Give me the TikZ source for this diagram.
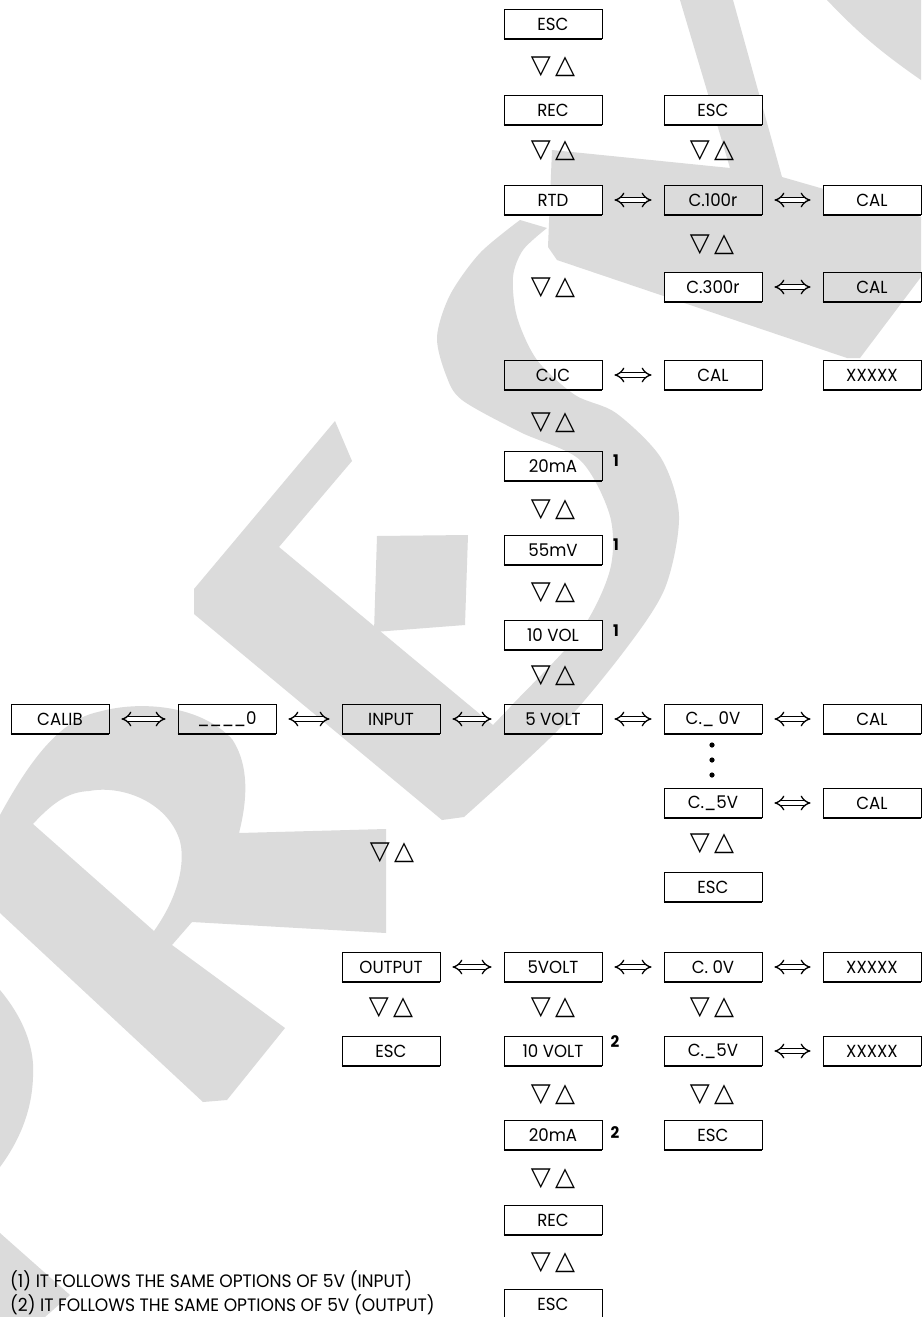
\documentclass[tikz,border=0pt]{standalone}
\usepackage{fontspec}
\setmainfont{Poppins}[FakeStretch=0.95]
\newfontfamily\symfont{DejaVu Sans}
\usetikzlibrary{arrows.meta}

\tikzset{
  box/.style={draw, line width=0.8pt, minimum width=98pt, minimum height=29pt, inner sep=0pt,
    font=\fontsize{17.5}{17.5}\selectfont,
    append after command={(\tikzlastnode.south west) edge[line width=1.5pt] (\tikzlastnode.south east)
      (\tikzlastnode.south east) edge[line width=1.5pt] (\tikzlastnode.north east)}},
  wbox/.style={box, fill=white},
  updown/.style={inner sep=0pt, font=\symfont\fontsize{26}{26}\selectfont},
  dblarr/.style={double, double distance=3.8pt, line width=1.3pt,
    {Implies[scale=2.2]}-{Implies[scale=2.2]}, shorten <=12pt, shorten >=12pt},
  fnmark/.style={inner sep=0pt, font=\bfseries\fontsize{16}{16}\selectfont},
  wm/.style={fill=black!14}
}

\begin{document}
\begin{tikzpicture}[x=1pt, y=-1pt]
    \useasboundingbox (0,0) rectangle (921,1317);
    \fill[white] (0,0) rectangle (921,1317);

    % watermark
    \fill[wm] (680,0) -- (733,0) -- (782,177) -- (921,217) -- (921,277) -- (860,358) -- (847,358)
        -- (557,260) -- (548,247) -- (552,150) -- (730,168) -- cycle;
    \fill[wm] (827,0) .. controls (860,35) and (885,55) .. (921,80) -- (921,0) -- cycle;
    \fill[wm] plot[smooth] coordinates {(520,220) (480,253) (450,295) (437,337) (446,375) (462,400)
        (520,432) (580,460) (610,516) (610,570) (580,632) (513,704) (493,725)}
        -- (279,547) -- (352,461) -- (335,421) -- (194,589) -- (194,614) -- (442,820)
        -- plot[smooth] coordinates {(464,817) (558,730) (625,650) (665,588) (679,516) (661,458)
        (616,413) (575,395) (537,360) (517,317) (513,277) (523,250) (547,228)} -- cycle;
    \fill[wm] (377,536) -- (468,535) -- (465,625) -- (374,632) -- cycle;
    \fill[wm, even odd rule] (0,815) .. controls (30,760) and (60,720) .. (98,712)
        .. controls (140,700) and (200,705) .. (232,739) .. controls (246,760) and (250,790) .. (239,833)
        -- (386,829) -- (386,933) -- (192,922) -- (172,945) -- (285,1028) -- (227,1100) -- (203,1102)
        -- (0,913) -- cycle
        (33,824) .. controls (55,800) and (70,792) .. (89,791) .. controls (120,785) and (165,800) .. (179,838)
        .. controls (185,855) and (183,890) .. (154,931) -- cycle;
    \fill[wm] (0,990) .. controls (25,1020) and (35,1050) .. (33,1077) .. controls (32,1110) and (20,1140) .. (0,1167) -- cycle;
    \fill[wm] (0,1233) -- (70,1295) -- (45,1317) -- (0,1317) -- cycle;

    % input branch
    \node[box] (esctop) at (553,24) {ESC};
    \node[box] (rec) at (553,110) {REC};
    \node[wbox] (rtd) at (553,200) {RTD};
    \node[wbox] (escrtd) at (713,110) {ESC};
    \node[box] (c100) at (713,200) {C.100r};
    \node[wbox] (cal100) at (872,200) {CAL};
    \node[wbox] (c300) at (713,287) {C.300r};
    \node[box] (cal300) at (872,287) {CAL};
    \node[box] (cjc) at (553,375) {CJC};
    \node[box] (calcjc) at (713,375) {CAL};
    \node[box] (xxcjc) at (872,375) {XXXXX};
    \node[box] (ma20) at (553,466) {20mA};
    \node[box] (mv55) at (553,550) {55mV};
    \node[wbox] (vol10) at (553,635) {10 VOL};
    \node[box] (calib) at (60,719) {CALIB};
    \node[box] (zero) at (227,719) {\_\_\_\_0};
    \node[box] (input) at (391,719) {INPUT};
    \node[box] (volt5) at (553,719) {5 VOLT};
    \node[box] (c0v) at (713,719) {C.\_ 0V};
    \node[box] (cal0) at (872,719) {CAL};
    \node[box] (c5v) at (713,803) {C.\_5V};
    \node[box] (cal5) at (872,803) {CAL};
    \node[box] (esc5v) at (713,887) {ESC};

    % output branch
    \node[box] (output) at (391,967) {OUTPUT};
    \node[box] (ovolt5) at (553,967) {5VOLT};
    \node[box] (oc0) at (713,967) {C.\ 0V};
    \node[box] (oxx0) at (872,967) {XXXXX};
    \node[box] (oesc) at (391,1051) {ESC};
    \node[box] (ovolt10) at (553,1051) {10 VOLT};
    \node[box] (oc5) at (713,1051) {C.\_5V};
    \node[box] (oxx5) at (872,1051) {XXXXX};
    \node[box] (oma20) at (553,1135) {20mA};
    \node[box] (oesc5) at (713,1135) {ESC};
    \node[box] (orec) at (553,1220) {REC};
    \node[box] (oescend) at (553,1304) {ESC};

    % up / down keys
    \foreach \px/\py in {553/67, 553/151, 712/151, 712/245, 553/288, 553/423, 553/510, 553/593,
        553/676, 712/844, 392/853, 391/1008, 553/1008, 712/1008, 553/1095, 712/1095, 553/1179, 553/1263}
        \node[updown] at (\px,\py) {▽\,△};

    % enter keys
    \draw[dblarr] (rtd) -- (c100);
    \draw[dblarr] (c100) -- (cal100);
    \draw[dblarr] (c300) -- (cal300);
    \draw[dblarr] (cjc) -- (calcjc);
    \draw[dblarr] (calib) -- (zero);
    \draw[dblarr] (zero) -- (input);
    \draw[dblarr] (input) -- (volt5);
    \draw[dblarr] (volt5) -- (c0v);
    \draw[dblarr] (c0v) -- (cal0);
    \draw[dblarr] (c5v) -- (cal5);
    \draw[dblarr] (output) -- (ovolt5);
    \draw[dblarr] (ovolt5) -- (oc0);
    \draw[dblarr] (oc0) -- (oxx0);
    \draw[dblarr] (oc5) -- (oxx5);

    \foreach \py in {745,760,775}
        \fill (712,\py) circle[radius=2.6pt];

    \node[fnmark] (n1a) at (616,461) {1};
    \node[fnmark] (n1b) at (616,545) {1};
    \node[fnmark] (n1c) at (616,631) {1};
    \node[fnmark] (n2a) at (615,1042) {2};
    \node[fnmark] (n2b) at (615,1133) {2};

    \node[anchor=west, inner sep=0pt, font=\fontsize{18}{18}\selectfont] (note1) at (10,1281)
        {(1) IT FOLLOWS THE SAME OPTIONS OF 5V (INPUT)};
    \node[anchor=west, inner sep=0pt, font=\fontsize{18}{18}\selectfont] (note2) at (10,1305)
        {(2) IT FOLLOWS THE SAME OPTIONS OF 5V (OUTPUT)};
\end{tikzpicture}
\end{document}
